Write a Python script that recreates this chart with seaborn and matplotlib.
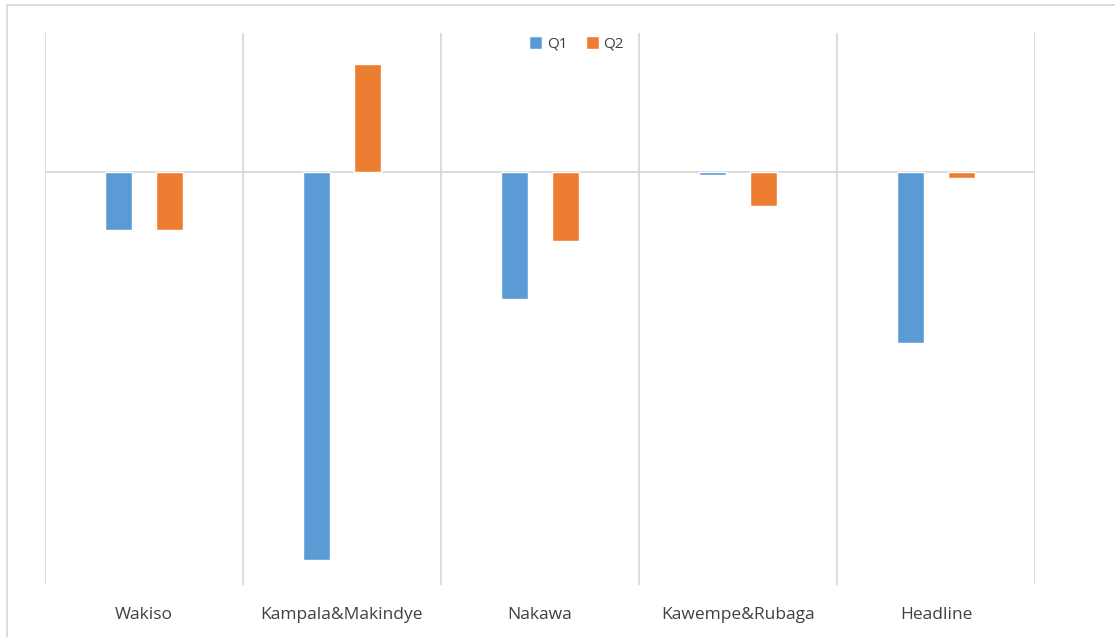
import matplotlib
matplotlib.use("Agg")
import matplotlib.pyplot as plt
import seaborn as sns
import pandas as pd
from matplotlib.patches import Rectangle

categories = ["Wakiso", "Kampala&Makindye", "Nakawa", "Kawempe&Rubaga", "Headline"]
q1 = [-0.58, -3.88, -1.27, -0.03, -1.71]
q2 = [-0.58, 1.08, -0.69, -0.34, -0.06]
series = ["Q1", "Q2"]

df = pd.DataFrame({
    "cat": categories * 2,
    "val": q1 + q2,
    "series": [series[0]] * len(categories) + [series[1]] * len(categories),
})

sns.set_theme(style="white")
plt.rcParams["font.family"] = ["Open Sans", "DejaVu Sans"]

fig = plt.figure(figsize=(11.15, 6.37), dpi=100)
ax = fig.add_axes([45 / 1115, 1 - 585 / 637, (1035 - 45) / 1115, (585 - 33) / 637])

sns.barplot(data=df, x="cat", y="val", hue="series", order=categories,
            hue_order=series, palette=["#5B9BD5", "#ED7D31"],
            width=0.515, gap=0.47, ax=ax, saturation=1, errorbar=None)

ax.set_xlim(-0.5, len(categories) - 0.5)
ax.set_ylim(-4.13, 1.39)
for i in range(len(categories) + 1):
    ax.axvline(i - 0.5, color="#d9d9d9", lw=1.3, zorder=0)
ax.axhline(0, color="#d9d9d9", lw=1.3, zorder=0)

for s in ax.spines.values():
    s.set_visible(False)
ax.set_yticks([])
ax.set_xlabel("")
ax.set_ylabel("")
ax.tick_params(axis="x", length=0, pad=16, labelsize=12.5, labelcolor="#404040")

leg = ax.legend(loc="upper center", bbox_to_anchor=(0.537, 1.005), ncol=2, frameon=False,
                fontsize=11, handlelength=0.85, handleheight=0.85,
                handletextpad=0.3, columnspacing=1.2, borderaxespad=0.0)
for t in leg.get_texts():
    t.set_color("#404040")

fig.patches.append(Rectangle((7 / 1115, -0.1), 1.2, 1 - 5 / 637 + 0.1,
                             transform=fig.transFigure, fill=False,
                             edgecolor="#d9d9d9", lw=1.3))

fig.savefig("out.png", dpi=100)
